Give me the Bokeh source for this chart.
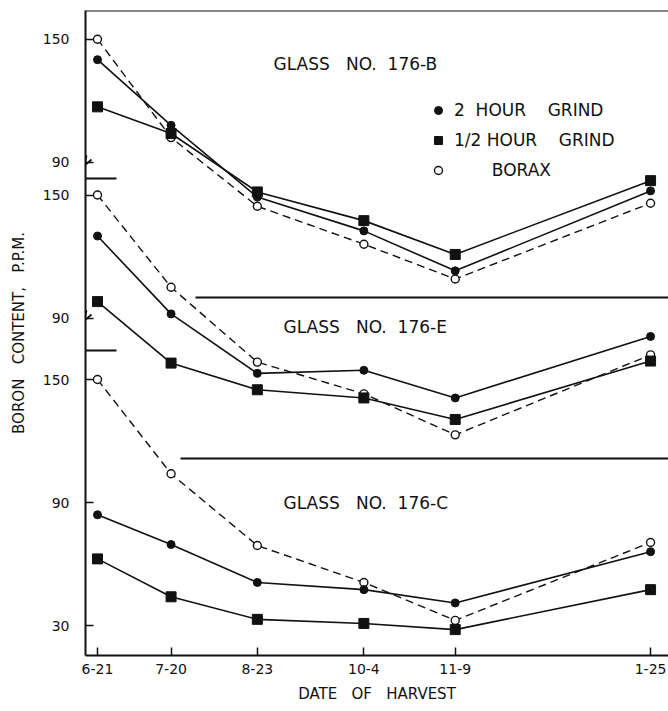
from bokeh.plotting import figure
from bokeh.models import FixedTicker, Range1d, Span, Label, Legend, LegendItem
from bokeh.embed import file_html
from bokeh.resources import INLINE

# ---------------- data ----------------
dates = ["6-21", "7-20", "8-23", "10-4", "11-9", "1-25"]
days = [0, 29, 63, 105, 141, 218]          # days after 6-21

b_2hr = [140, 108, 73, 56.5, 37, 76]
b_half = [117, 104, 75.5, 61.5, 45, 81]
b_borax = [150, 102, 68.5, 50, 33, 70]

e_2hr = [130, 92, 63, 64.5, 51, 81]
e_half = [98, 68, 55, 51, 40.5, 69]
e_borax = [150, 105, 68.5, 53, 33, 72]

c_2hr = [84, 69.5, 51, 47.5, 41, 66]
c_half = [62.5, 44, 33, 31, 28, 47.5]
c_borax = [150, 104, 69, 51, 32.5, 70.5]

NB = "\u00a0"
panels = [("GLASS" + NB * 3 + "NO." + NB * 2 + "176-B", 166, b_2hr, b_half, b_borax),
          ("GLASS" + NB * 3 + "NO." + NB * 2 + "176-E", 90, e_2hr, e_half, e_borax),
          ("GLASS" + NB * 3 + "NO." + NB * 2 + "176-C", 0, c_2hr, c_half, c_borax)]
title_px = [(273, 63), (283, 326), (283, 502)]

tick_vals = [30, 90, 150]

# ---------------- layout helpers (reference pixel -> data) ----------------
def dx(px):
    return (px - 97) / 2.537

def dy(py):
    return 150 + (379 - py) / 2.05

FONT = "DejaVu Sans"
INK = "#111111"

p = figure(width=668, height=711, output_backend="svg", toolbar_location=None,
           x_range=Range1d(dx(85), dx(668)), y_range=Range1d(dy(655), dy(10)),
           min_border_left=85, min_border_right=0, min_border_top=10, min_border_bottom=56)
p.background_fill_color = "white"
p.border_fill_color = "white"
p.outline_line_color = None
p.xgrid.visible = False
p.ygrid.visible = False

# x axis
p.xaxis.ticker = FixedTicker(ticks=days)
p.xaxis.major_label_overrides = {d: s for d, s in zip(days, dates)}
p.xaxis.axis_label = "DATE" + NB * 3 + "OF" + NB * 3 + "HARVEST"
# y axis
yt = []
ylab = {}
for _, off, *_rest in panels:
    for v in tick_vals:
        if off > 0 and v == 30:
            continue
        yt.append(v + off)
        ylab[v + off] = str(v)
p.yaxis.ticker = FixedTicker(ticks=sorted(yt))
p.yaxis.major_label_overrides = ylab
p.yaxis.axis_label = "BORON" + NB * 3 + "CONTENT," + NB * 3 + "P.P.M."

for ax in (p.xaxis[0], p.yaxis[0]):
    ax.axis_line_width = 2
    ax.axis_line_color = INK
    ax.major_tick_in = 8
    ax.major_tick_out = 0
    ax.major_tick_line_width = 1.5
    ax.major_tick_line_color = INK
    ax.minor_tick_line_color = None
    ax.major_label_text_font = FONT
    ax.major_label_text_font_size = "14px"
    ax.major_label_text_color = INK
    ax.axis_label_text_font = FONT
    ax.axis_label_text_font_size = "15px"
    ax.axis_label_text_font_style = "normal"
    ax.axis_label_text_color = INK
p.xaxis.major_label_standoff = 8
p.xaxis.axis_label_standoff = 8
p.yaxis.major_label_standoff = 16
p.yaxis.axis_label_standoff = 12

# frame decorations
p.add_layout(Span(location=dy(10), dimension="width", line_color=INK, line_width=2))
p.segment(x0=[dx(85), dx(195), dx(85), dx(180)],
          y0=[dy(178), dy(297), dy(350), dy(458)],
          x1=[dx(116), dx(670), dx(116), dx(670)],
          y1=[dy(178), dy(297), dy(350), dy(458)],
          line_color=INK, line_width=2)
# axis break marks
for py in (162, 317):
    p.line(x=[dx(79), dx(86), dx(84), dx(91)],
           y=[dy(py - 1), dy(py - 7), dy(py + 3), dy(py - 3)],
           line_color=INK, line_width=1.8)

legend_refs = None
for title, off, v2, vh, vb in panels:
    y2 = [v + off for v in v2]
    yh = [v + off for v in vh]
    yb = [v + off for v in vb]
    p.line(days, yb, line_color=INK, line_width=1.4, line_dash="8 5")
    p.line(days, y2, line_color=INK, line_width=1.6)
    p.line(days, yh, line_color=INK, line_width=1.6)
    rb = p.scatter(days, yb, marker="circle", size=8, fill_color="white",
                   line_color=INK, line_width=1.4)
    r2 = p.scatter(days, y2, marker="circle", size=8, fill_color=INK, line_color=INK)
    rh = p.scatter(days, yh, marker="square", size=10, fill_color=INK, line_color=INK)
    if legend_refs is None:
        legend_refs = (r2, rh, rb)

for (title, *_r), (px, py) in zip(panels, title_px):
    p.add_layout(Label(x=dx(px), y=dy(py), text=title, text_font=FONT,
                       text_font_size="17px", text_color=INK,
                       text_align="left", text_baseline="middle"))

legend = Legend(items=[LegendItem(label="2" + NB * 2 + "HOUR" + NB * 4 + "GRIND", renderers=[legend_refs[0]]),
                       LegendItem(label="1/2" + NB + "HOUR" + NB * 4 + "GRIND", renderers=[legend_refs[1]]),
                       LegendItem(label=NB * 7 + "BORAX", renderers=[legend_refs[2]])],
                location=(343, 475), orientation="vertical",
                glyph_width=20, glyph_height=20, label_height=20,
                label_standoff=6, spacing=10, padding=0, margin=0,
                border_line_color=None, background_fill_alpha=0,
                label_text_font=FONT, label_text_font_size="17px", label_text_color=INK)
p.add_layout(legend)

open("out.html", "w").write(file_html(p, INLINE))
